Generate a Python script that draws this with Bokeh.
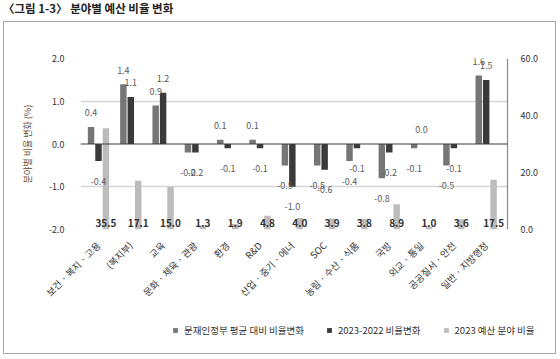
import math
from bokeh.plotting import figure
from bokeh.layouts import column
from bokeh.models import (Range1d, LinearAxis, FixedTicker, Span, Div,
                          Legend, LegendItem, NumeralTickFormatter)
from bokeh.core.properties import value
from bokeh.embed import file_html
from bokeh.resources import INLINE

# ---- data ----
categories = ["보건 · 복지 · 고용", "(복지부)", "교육", "문화 · 체육 · 관광", "환경", "R&D",
              "산업 · 중기 · 에너", "SOC", "농림 · 수산 · 식품", "국방", "외교 · 통일",
              "공공질서 · 안전", "일반 · 지방행정"]
moon_avg = [0.4, 1.4, 0.9, -0.2, 0.1, 0.1, -0.5, -0.5, -0.4, -0.8, -0.1, -0.5, 1.6]
yoy = [-0.4, 1.1, 1.2, -0.2, -0.1, -0.1, -1.0, -0.6, -0.1, -0.2, 0.0, -0.1, 1.5]
share = [35.5, 17.1, 15.0, 1.3, 1.9, 4.8, 4.0, 3.9, 3.8, 8.9, 1.0, 3.6, 17.5]
left_ticks = [-2, -1, 0, 1, 2]
right_ticks = [0, 20, 40, 60]
series_names = ["문재인정부 평균 대비 비율변화", "2023-2022 비율변화", "2023 예산 분야 비율"]
title_text = "〈그림 1-3〉 분야별 예산 비율 변화"
y_title = "분야별 비율 변화 (%)"

FONT = "Noto Sans CJK KR"
W = 551
H_MAIN, H_LEG = 293, 38
C1, C2, C3 = "#767676", "#3a3a3a", "#bcbcbc"

p = figure(width=W, height=H_MAIN, output_backend="svg", toolbar_location=None,
           x_range=Range1d(-0.557, 12.66), y_range=Range1d(-2, 2),
           min_border_left=76, min_border_right=48, min_border_top=36,
           min_border_bottom=86)
p.extra_y_ranges = {"share": Range1d(0, 60)}
p.outline_line_color = None

idx = list(range(len(categories)))
x1 = [i - 0.23 for i in idx]
x2 = [i for i in idx]
x3 = [i + 0.23 for i in idx]

# grid
p.xgrid.visible = False
p.ygrid.ticker = FixedTicker(ticks=[-2, -1, 1, 2])
p.ygrid.grid_line_color = "#d6d6d6"
p.ygrid.grid_line_width = 1.5

r3 = p.vbar(x=x3, top=share, bottom=0, width=0.2, fill_color=C3, line_color=None,
            y_range_name="share")
p.add_layout(Span(location=0, dimension="width", line_color="#3c3c3c", line_width=1.2))
r1 = p.vbar(x=x1, top=moon_avg, bottom=0, width=0.2, fill_color=C1, line_color=None)
r2 = p.vbar(x=x2, top=yoy, bottom=0, width=0.2, fill_color=C2, line_color=None)

def lab_y(v):
    return v + 0.33 if v >= 0 else v - 0.47

p.text(x=x1, y=[lab_y(v) for v in moon_avg], text=[f"{v:.1f}" for v in moon_avg],
       text_align="center", text_baseline="middle", text_font=value(FONT),
       text_font_size="9px", text_color="#5a5a5a")
p.text(x=x2, y=[lab_y(v) for v in yoy], text=[f"{v:.1f}" for v in yoy],
       text_align="center", text_baseline="middle", text_font=value(FONT),
       text_font_size="9px", text_color="#5a5a5a")
p.text(x=x3, y=[-1.85] * len(share), text=[f"{v:.1f}" for v in share],
       text_align="center", text_baseline="middle", text_font=value(FONT),
       text_font_size="10px", text_font_style="bold", text_color="#333333")

# left axis
ya = p.yaxis[0]
ya.ticker = FixedTicker(ticks=left_ticks)
ya.formatter = NumeralTickFormatter(format="0.0")
ya.axis_line_color = None
ya.major_tick_line_color = None
ya.minor_tick_line_color = None
ya.major_label_standoff = 10
ya.major_label_text_font = FONT
ya.major_label_text_font_size = "9px"
ya.major_label_text_color = "#333333"
ya.axis_label = y_title
ya.axis_label_text_font = FONT
ya.axis_label_text_font_size = "9px"
ya.axis_label_text_font_style = "normal"
ya.axis_label_text_color = "#6a4e36"
ya.axis_label_standoff = 12

# right axis
ra = LinearAxis(y_range_name="share", ticker=FixedTicker(ticks=right_ticks),
                formatter=NumeralTickFormatter(format="0.0"))
ra.axis_line_color = "#8a8a8a"
ra.axis_line_width = 1.2
ra.major_tick_line_color = None
ra.minor_tick_line_color = None
ra.major_label_standoff = 7
ra.major_label_text_font = FONT
ra.major_label_text_font_size = "9px"
ra.major_label_text_color = "#333333"
p.add_layout(ra, "right")

# x axis
xa = p.xaxis[0]
xa.ticker = FixedTicker(ticks=idx)
xa.major_label_overrides = {i: c for i, c in zip(idx, categories)}
xa.major_label_orientation = math.pi / 4
xa.axis_line_color = None
xa.major_tick_line_color = None
xa.minor_tick_line_color = None
xa.major_label_standoff = 8
xa.major_label_text_font = FONT
xa.major_label_text_font_size = "9.5px"
xa.major_label_text_color = "#333333"

# legend strip (a second, axis-less figure below the chart)
lf = figure(width=W, height=H_LEG, output_backend="svg", toolbar_location=None,
            x_range=Range1d(0, 1), y_range=Range1d(0, 1),
            min_border_left=0, min_border_right=0, min_border_top=0, min_border_bottom=0)
lf.frame_align = False
lf.axis.visible = False
lf.grid.visible = False
lf.outline_line_color = None
# key swatches: zero-height placeholders outside the visible range
k1 = lf.vbar(x=[-5], top=[0], width=0.1, fill_color=C1, line_color=None)
k2 = lf.vbar(x=[-5], top=[0], width=0.1, fill_color=C2, line_color=None)
k3 = lf.vbar(x=[-5], top=[0], width=0.1, fill_color=C3, line_color=None)
legend = Legend(items=[LegendItem(label=series_names[0], renderers=[k1]),
                       LegendItem(label=series_names[1], renderers=[k2]),
                       LegendItem(label=series_names[2], renderers=[k3])],
                orientation="horizontal", location=(168, 16),
                glyph_width=6, glyph_height=6, label_standoff=6, spacing=22,
                padding=0, margin=0, border_line_color=None,
                background_fill_alpha=0, label_text_font=FONT,
                label_text_font_size="9.5px", label_text_color="#333333")
lf.add_layout(legend)

box = column(p, lf, spacing=0, margin=(0, 0, 0, 3),
             styles={"border": "1.5px solid #a8a8a8"})

title_div = Div(text=title_text, width=560, height=21, margin=(0, 0, 0, 0),
                styles={"font-family": FONT, "font-weight": "bold", "font-size": "11.5px",
                        "color": "#222222", "padding-left": "3px", "line-height": "17px"})

layout = column(title_div, box, spacing=0)
open("out.html", "w").write(file_html(layout, INLINE))
